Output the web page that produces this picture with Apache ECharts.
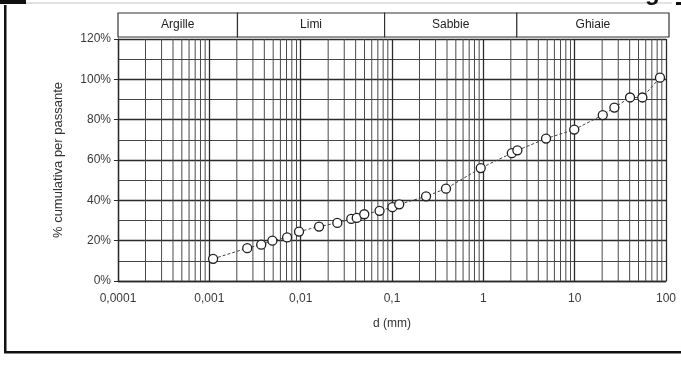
<!DOCTYPE html>
<html>
<head>
<meta charset="utf-8">
<title>Curva granulometrica</title>
<script src="https://cdn.jsdelivr.net/npm/echarts@6/dist/echarts.min.js"></script>
<style>
  html, body { margin: 0; padding: 0; background: #fff; }
  #chart { width: 681px; height: 365px; }
</style>
</head>
<body>
<div id="chart"></div>
<script>
  // diametri (mm) e % cumulativa passante
  const diametri = [0.0011, 0.0026, 0.0037, 0.0049, 0.0071, 0.0096, 0.0159, 0.0252, 0.0358, 0.0411,
    0.0497, 0.073, 0.101, 0.120, 0.236, 0.390, 0.936, 2.05, 2.36, 4.86, 9.9, 20.3, 27.2, 40.4, 55.1, 85.9];
  const passante = [11, 16.3, 18, 20, 21.6, 24.5, 27, 28.8, 30.8, 31.3,
    33.1, 34.8, 36.6, 38, 42, 45.8, 56, 63.4, 64.8, 70.6, 75.1, 82.3, 86, 91, 91, 100.8];

  // classi granulometriche e loro limiti (mm)
  const classi = ['Argille', 'Limi', 'Sabbie', 'Ghiaie'];
  const limiti = [0.0001, 0.002, 0.08, 2.2, 100];

  const xTickLabels = ['0,0001', '0,001', '0,01', '0,1', '1', '10', '100'];
  const yTicks = [0, 20, 40, 60, 80, 100, 120];

  // linee secondarie della carta logaritmica (2..9 in ogni decade)
  const minorX = [];
  for (let k = -4; k < 2; k++) {
    for (let m = 2; m <= 9; m++) {
      minorX.push(Number((m * Math.pow(10, k)).toPrecision(3)));
    }
  }

  const font = '"Liberation Sans", Arial, sans-serif';
  const ink = '#2a2a2a';

  const chart = echarts.init(document.getElementById('chart'));

  const option = {
    animation: false,
    backgroundColor: '#fff',
    grid: [
      { left: 118, right: 15, top: 39, bottom: 84 },
      { left: 118, right: 12, top: 13, height: 24 },
    ],
    xAxis: [
      {
        type: 'log',
        logBase: 10,
        min: 0.0001,
        max: 100,
        gridIndex: 0,
        name: 'd (mm)',
        nameLocation: 'middle',
        nameGap: 37,
        nameTextStyle: { color: '#333', fontSize: 12, fontFamily: font },
        axisLine: { lineStyle: { color: ink, width: 1.3 } },
        axisTick: { show: false },
        axisLabel: {
          formatter: (v) => xTickLabels[Math.round(Math.log10(v)) + 4],
          margin: 12,
          color: '#3a3a3a',
          fontSize: 12,
          fontFamily: font,
        },
        splitLine: { show: true, lineStyle: { color: ink, width: 1.3 } },
      },
      { type: 'log', logBase: 10, min: 0.0001, max: 100, gridIndex: 1, show: false },
    ],
    yAxis: [
      {
        type: 'value',
        min: yTicks[0],
        max: yTicks[yTicks.length - 1],
        interval: yTicks[1] - yTicks[0],
        gridIndex: 0,
        name: '% cumulativa per passante',
        nameLocation: 'middle',
        nameGap: 53,
        nameTextStyle: { color: '#333', fontSize: 13, fontFamily: font },
        axisLine: { show: true, lineStyle: { color: ink, width: 1.3 } },
        axisTick: { show: true, length: 4, lineStyle: { color: ink } },
        axisLabel: {
          formatter: (v) => v + '%',
          margin: 7,
          color: '#3a3a3a',
          fontSize: 12,
          fontFamily: font,
        },
        splitLine: { lineStyle: { color: ink, width: 1.3 } },
        minorTick: { show: false, splitNumber: 2 },
        minorSplitLine: { show: true, lineStyle: { color: '#444', width: 1 } },
      },
      { type: 'value', min: 0, max: 1, gridIndex: 1, show: false },
    ],
    series: [
      {
        // griglia secondaria verticale
        type: 'custom',
        silent: true,
        z: 1,
        data: minorX.map((v) => [v, 0]),
        renderItem: (params, api) => {
          const a = api.coord([api.value(0), yTicks[0]]);
          const b = api.coord([api.value(0), yTicks[yTicks.length - 1]]);
          return {
            type: 'line',
            shape: { x1: a[0], y1: a[1], x2: b[0], y2: b[1] },
            style: { stroke: '#4a4a4a', lineWidth: 1 },
          };
        },
      },
      {
        // fascia con le classi granulometriche
        type: 'custom',
        xAxisIndex: 1,
        yAxisIndex: 1,
        silent: true,
        data: classi.map((c, i) => [limiti[i], limiti[i + 1]]),
        renderItem: (params, api) => {
          const p0 = api.coord([api.value(0), 1]);
          const p1 = api.coord([api.value(1), 0]);
          return {
            type: 'group',
            children: [
              {
                type: 'rect',
                shape: { x: p0[0], y: p0[1], width: p1[0] - p0[0], height: p1[1] - p0[1] },
                style: { fill: '#fff', stroke: '#333', lineWidth: 1.2 },
              },
              {
                type: 'text',
                style: {
                  text: classi[params.dataIndex],
                  x: (p0[0] + p1[0]) / 2,
                  y: (p0[1] + p1[1]) / 2,
                  align: 'center',
                  verticalAlign: 'middle',
                  fill: '#222',
                  font: '12px ' + font,
                },
              },
            ],
          };
        },
      },
      {
        type: 'line',
        z: 3,
        data: diametri.map((d, i) => [d, passante[i]]),
        symbol: 'circle',
        symbolSize: 9,
        showSymbol: true,
        itemStyle: { color: '#fff', borderColor: '#1e1e1e', borderWidth: 1.3 },
        lineStyle: { color: '#444', width: 1, type: [3, 2] },
      },
    ],
    graphic: [
      // bordo della pagina scansionata
      { type: 'rect', left: 4, top: 5, shape: { width: 2.5, height: 348 }, style: { fill: '#111' } },
      { type: 'rect', left: 4, top: 351, shape: { width: 677, height: 2.5 }, style: { fill: '#111' } },
      { type: 'rect', left: 0, top: 0, shape: { width: 26, height: 4 }, style: { fill: '#111' } },
      { type: 'line', shape: { x1: 26, y1: 3, x2: 672, y2: 3 }, style: { stroke: '#c4c4c4', lineWidth: 1 } },
      { type: 'rect', left: 676, top: 2, shape: { width: 5, height: 3 }, style: { fill: '#111' } },
      { type: 'text', x: 645, y: -19, style: { text: 'g', font: 'bold 24px ' + font, fill: '#111' } },
    ],
  };

  chart.setOption(option);
</script>
</body>
</html>
